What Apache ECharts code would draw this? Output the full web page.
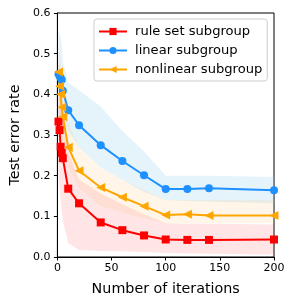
<!DOCTYPE html>
<html><head><meta charset="utf-8">
<script src="https://cdn.jsdelivr.net/npm/echarts@6/dist/echarts.min.js"></script>
<style>html,body{margin:0;padding:0;background:#fff}#c{width:292px;height:302px}</style>
</head><body><div id="c"></div>
<script>
const iterations = [1, 2, 3, 4, 5, 10, 20, 40, 60, 80, 100, 120, 140, 200];
const ruleSet = [0.333, 0.312, 0.271, 0.256, 0.243, 0.168, 0.132, 0.085, 0.066, 0.053, 0.043, 0.042, 0.042, 0.043];
const linear = [0.45, 0.445, 0.44, 0.436, 0.409, 0.361, 0.324, 0.275, 0.236, 0.201, 0.167, 0.167, 0.169, 0.164];
const nonlinear = [0.455, 0.42, 0.40, 0.368, 0.345, 0.27, 0.212, 0.171, 0.147, 0.125, 0.103, 0.105, 0.102, 0.102];
const ruleSetLo = [0.20, 0.17, 0.14, 0.11, 0.09, 0.034, 0.017, 0.015, 0.014, 0.012, 0.01, 0.009, 0.008, 0.006];
const ruleSetHi = [0.49, 0.46, 0.42, 0.39, 0.37, 0.26, 0.19, 0.156, 0.13, 0.105, 0.083, 0.082, 0.082, 0.08];
const linearLo = [0.34, 0.34, 0.335, 0.33, 0.32, 0.31, 0.27, 0.22, 0.19, 0.16, 0.14, 0.138, 0.136, 0.132];
const linearHi = [0.56, 0.55, 0.54, 0.52, 0.48, 0.43, 0.41, 0.37, 0.31, 0.26, 0.2, 0.2, 0.2, 0.197];
const nonlinearLo = [0.33, 0.32, 0.31, 0.29, 0.27, 0.22, 0.17, 0.125, 0.11, 0.095, 0.083, 0.083, 0.083, 0.083];
const nonlinearHi = [0.52, 0.5, 0.48, 0.45, 0.42, 0.33, 0.27, 0.22, 0.19, 0.165, 0.14, 0.14, 0.14, 0.14];
const xTicks = [0, 50, 100, 150, 200];
const yTicks = [0, 0.1, 0.2, 0.3, 0.4, 0.5, 0.6];

const FONT = 'DejaVu Sans';
function band(lo, hi, color) {
  return {
    type: 'custom', silent: true, z: 1, clip: true,
    data: iterations.map((x, i) => [x, lo[i], hi[i]]),
    encode: { x: 0, y: [1, 2] },
    renderItem: function (params, api) {
      if (params.dataIndex !== 0) return null;
      const pts = [];
      for (let i = 0; i < iterations.length; i++) pts.push(api.coord([iterations[i], hi[i]]));
      for (let i = iterations.length - 1; i >= 0; i--) pts.push(api.coord([iterations[i], lo[i]]));
      return { type: 'polygon', shape: { points: pts }, style: { fill: color } };
    }
  };
}
function line(name, vals, color, symbol, size, rot) {
  return {
    name: name, type: 'line', z: 5,
    data: iterations.map((x, i) => [x, vals[i]]),
    symbol: symbol, symbolSize: size, symbolRotate: rot || 0,
    showAllSymbol: true,
    lineStyle: { color: color, width: 2 },
    itemStyle: { color: color },
    emphasis: { disabled: true }
  };
}
const chart = echarts.init(document.getElementById('c'), null, { renderer: 'canvas' });
chart.setOption({
  animation: false,
  grid: { left: 51, right: 18, top: 13, bottom: 45, show: true, borderColor: '#000', borderWidth: 1, backgroundColor: 'transparent' },
  xAxis: {
    type: 'value', min: 0, max: 200, interval: 50,
    name: 'Number of iterations', nameLocation: 'middle', nameGap: 25,
    nameTextStyle: { fontFamily: FONT, fontSize: 14.3, color: '#000' },
    axisLine: { show: true, lineStyle: { color: '#000', width: 1 } },
    axisTick: { show: true, length: 3.5, lineStyle: { color: '#000' } },
    axisLabel: { fontFamily: FONT, fontSize: 11, color: '#000', margin: 6,
      customValues: xTicks },
    splitLine: { show: false }
  },
  yAxis: {
    type: 'value', min: 0, max: 0.6, interval: 0.1,
    name: 'Test error rate', nameLocation: 'middle', nameGap: 34,
    nameTextStyle: { fontFamily: FONT, fontSize: 14.3, color: '#000' },
    axisLine: { show: true, lineStyle: { color: '#000', width: 1 } },
    axisTick: { show: true, length: 3.5, lineStyle: { color: '#000' } },
    axisLabel: { fontFamily: FONT, fontSize: 11, color: '#000', margin: 7,
      formatter: v => v.toFixed(1) },
    splitLine: { show: false }
  },
  legend: {
    orient: 'vertical', left: 94, top: 19,
    padding: [6, 5, 5, 4], itemGap: 6, itemWidth: 28, itemHeight: 9,
    borderColor: '#ccc', borderWidth: 1, borderRadius: 3,
    backgroundColor: 'rgba(255,255,255,0.8)',
    textStyle: { fontFamily: FONT, fontSize: 13.1, color: '#000', padding: [0, 0, 0, 3] },
    data: ['rule set subgroup', 'linear subgroup', 'nonlinear subgroup']
  },
  series: [
    band(linearLo, linearHi, 'rgba(135,206,235,0.22)'),
    band(nonlinearLo, nonlinearHi, 'rgba(255,200,120,0.16)'),
    band(ruleSetLo, ruleSetHi, 'rgba(255,80,80,0.15)'),
    line('rule set subgroup', ruleSet, '#ff0000', 'rect', 8),
    line('linear subgroup', linear, '#1e90ff', 'circle', 8),
    line('nonlinear subgroup', nonlinear, '#ffa500', 'triangle', 9, 90)
  ]
});
</script></body></html>
